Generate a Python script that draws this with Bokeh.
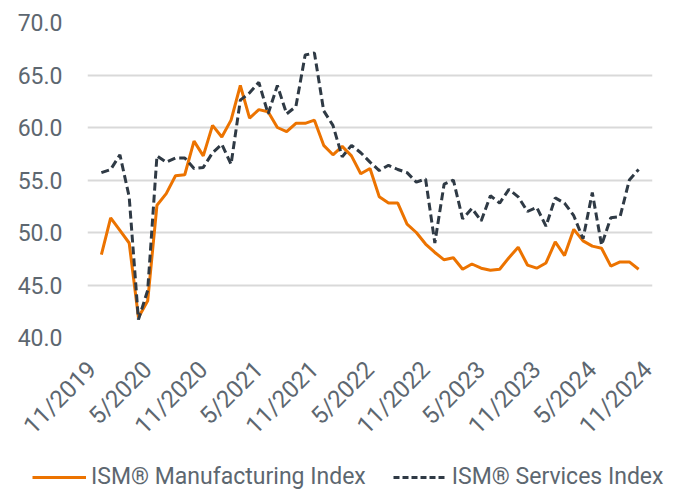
import math
from bokeh.plotting import figure
from bokeh.models import (ColumnDataSource, FixedTicker, NumeralTickFormatter,
                          Legend, LegendItem, Range1d)
from bokeh.embed import file_html
from bokeh.resources import INLINE

# Month labels: 11/2019 .. 11/2024 (61 monthly categories)
tick_labels = ["11/2019", "5/2020", "11/2020", "5/2021", "11/2021", "5/2022",
               "11/2022", "5/2023", "11/2023", "5/2024", "11/2024"]
tick_positions = [0, 6, 12, 18, 24, 30, 36, 42, 48, 54, 60]

# Data months: 12/2019 .. 10/2024 (month index 1..59)
month_index = list(range(1, 60))

manufacturing = [
    47.9, 51.4, 50.2, 49.0, 41.9, 43.5, 52.6, 53.7, 55.4, 55.5,
    58.7, 57.3, 60.2, 59.1, 60.7, 64.0, 60.9, 61.7, 61.5, 60.0,
    59.6, 60.4, 60.4, 60.7, 58.3, 57.4, 58.2, 57.3, 55.6, 56.1,
    53.4, 52.8, 52.8, 50.8, 50.0, 48.9, 48.1, 47.4, 47.6, 46.5,
    47.0, 46.6, 46.4, 46.5, 47.6, 48.6, 46.9, 46.6, 47.1, 49.1,
    47.8, 50.3, 49.2, 48.7, 48.5, 46.8, 47.2, 47.2, 46.5,
]

services = [
    55.7, 56.0, 57.4, 53.4, 41.7, 44.5, 57.3, 56.7, 57.1, 57.1,
    56.1, 56.2, 57.6, 58.4, 56.5, 62.6, 63.3, 64.3, 61.3, 64.0,
    61.3, 62.0, 66.9, 67.1, 61.6, 60.2, 57.2, 58.3, 57.6, 56.7,
    55.9, 56.4, 56.0, 55.7, 54.8, 55.1, 49.0, 54.6, 55.0, 51.3,
    52.3, 51.1, 53.5, 52.8, 54.1, 53.4, 52.0, 52.4, 50.6, 53.3,
    52.8, 51.6, 49.4, 53.8, 48.8, 51.4, 51.5, 55.0, 56.0,
]

y_ticks = [40, 45, 50, 55, 60, 65, 70]

series_names = ["ISM® Manufacturing Index", "ISM® Services Index"]

FONT = "Roboto"
TEXT_COLOR = "#5D6770"
ORANGE = "#EC7300"
DARK = "#2F3A45"

src = ColumnDataSource(dict(x=month_index, m=manufacturing, s=services))

p = figure(width=683, height=455, output_backend="svg", toolbar_location=None,
           x_range=Range1d(-0.5, 60.5), y_range=Range1d(40, 70),
           min_border_left=87, min_border_right=31, min_border_top=22,
           min_border_bottom=118)
p.outline_line_color = None
p.background_fill_color = "white"
p.border_fill_color = "white"

p.line("x", "m", source=src, line_color=ORANGE, line_width=3)
p.line("x", "s", source=src, line_color=DARK, line_width=3, line_dash="8 4")

# Axes
p.xaxis.ticker = FixedTicker(ticks=tick_positions)
p.xaxis.major_label_overrides = {pos: lab for pos, lab in zip(tick_positions, tick_labels)}
p.xaxis.major_label_orientation = math.pi / 4
p.xaxis.axis_line_color = None
p.xaxis.major_tick_line_color = None
p.xaxis.minor_tick_line_color = None
p.xaxis.major_tick_out = 0
p.xaxis.major_label_standoff = 28
p.xaxis.major_label_text_font = FONT
p.xaxis.major_label_text_font_size = "24px"
p.xaxis.major_label_text_color = TEXT_COLOR

p.yaxis.ticker = FixedTicker(ticks=y_ticks)
p.yaxis.formatter = NumeralTickFormatter(format="0.0")
p.yaxis.axis_line_color = None
p.yaxis.major_tick_line_color = None
p.yaxis.minor_tick_line_color = None
p.yaxis.major_tick_out = 0
p.yaxis.major_label_standoff = 25
p.yaxis.major_label_text_font = FONT
p.yaxis.major_label_text_font_size = "23px"
p.yaxis.major_label_text_color = TEXT_COLOR

p.xgrid.grid_line_color = None
p.ygrid.ticker = FixedTicker(ticks=y_ticks)
p.ygrid.grid_line_color = "#D9D9D9"
p.ygrid.grid_line_width = 2

# Legend strip: a separate root figure below the chart (its range shows no data)
pl = figure(width=683, height=37, output_backend="svg", toolbar_location=None,
            x_range=Range1d(-0.5, 60.5), y_range=Range1d(0, 1),
            x_axis_location=None, y_axis_location=None,
            min_border_left=0, min_border_right=0, min_border_top=0,
            min_border_bottom=0)
pl.outline_line_color = None
pl.grid.grid_line_color = None
lm = pl.line("x", "m", source=src, line_color=ORANGE, line_width=3)
ls = pl.line("x", "s", source=src, line_color=DARK, line_width=3, line_dash="6 3")

legend = Legend(items=[LegendItem(label=series_names[0], renderers=[lm]),
                       LegendItem(label=series_names[1], renderers=[ls])],
                orientation="horizontal", location=(32, 2),
                glyph_width=54, glyph_height=22, label_standoff=5, spacing=27,
                padding=0, margin=0, border_line_color=None,
                background_fill_alpha=0,
                label_text_font=FONT, label_text_font_size="23px",
                label_text_color=TEXT_COLOR)
pl.add_layout(legend, "center")

open("out.html", "w").write(file_html([p, pl], INLINE))
